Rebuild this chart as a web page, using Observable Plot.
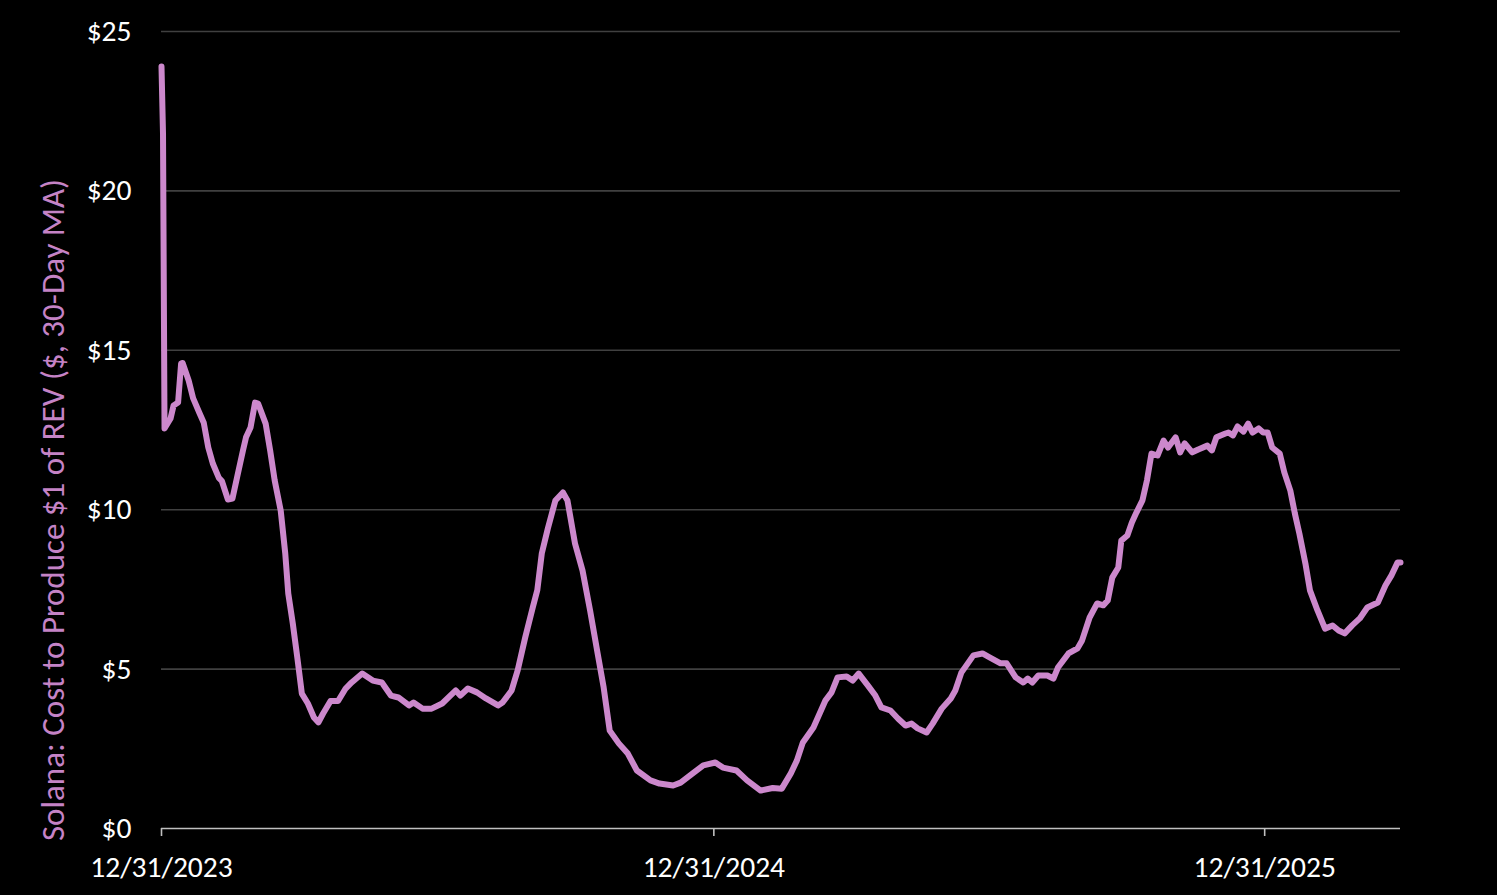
<!DOCTYPE html>
<html>
<head>
<meta charset="utf-8">
<script src="https://cdn.jsdelivr.net/npm/d3@7"></script>
<script src="https://cdn.jsdelivr.net/npm/@observablehq/plot@0.6"></script>
<style>
  html, body { margin: 0; padding: 0; background: #000; }
  #chart svg { display: block; }
</style>
</head>
<body>
<div id="chart"></div>
<script>
// ---- Data ----
const startDate = "2023-12-31";
// days since 12/31/2023
const dayOffsets = [
  0, 1, 2, 6, 8, 11, 13, 14, 18, 21, 25, 28, 31, 34, 38, 40, 44, 47, 50, 54,
  56, 59, 62, 64, 69, 72, 75, 79, 82, 84, 87, 90, 93, 97, 101, 104, 107, 112, 117, 122,
  126, 133, 140, 146, 152, 157, 164, 167, 173, 179, 186, 195, 198, 203, 209, 215, 223, 226, 232, 236,
  241, 246, 249, 252, 256, 261, 266, 269, 274, 279, 284, 289, 293, 297, 303, 309, 315, 324, 330, 339,
  344, 352, 359, 367, 372, 381, 388, 397, 405, 411, 417, 421, 425, 432, 440, 444, 448, 454, 458, 462,
  468, 473, 477, 483, 488, 493, 497, 501, 507, 511, 517, 523, 526, 530, 538, 544, 549, 556, 560, 566,
  571, 574, 577, 581, 587, 591, 594, 601, 607, 610, 615, 620, 624, 627, 630, 634, 636, 640, 643, 646,
  650, 653, 656, 660, 664, 667, 672, 675, 678, 683, 687, 693, 696, 699, 705, 707, 710, 713, 717, 720,
  723, 727, 730, 733, 736, 741, 744, 748, 751, 754, 758, 761, 766, 771, 776, 780, 784, 789, 794, 799,
  806, 811, 815, 819, 821
];
// Solana: cost to produce $1 of REV ($, 30-day MA)
const costPerRev = [
  23.9, 21.8, 12.55, 12.86, 13.27, 13.36, 14.59, 14.6, 14.05, 13.49, 13.05, 12.73, 11.95, 11.45, 11.0, 10.9, 10.32, 10.35, 11.0, 11.86,
  12.27, 12.58, 13.36, 13.33, 12.7, 11.86, 10.92, 9.97, 8.63, 7.37, 6.43, 5.36, 4.23, 3.92, 3.48, 3.33, 3.6, 4.0, 4.0, 4.39,
  4.58, 4.86, 4.64, 4.58, 4.17, 4.11, 3.86, 3.95, 3.76, 3.76, 3.92, 4.33, 4.17, 4.39, 4.27, 4.08, 3.86, 3.95, 4.33, 4.96,
  5.99, 6.93, 7.47, 8.63, 9.41, 10.29, 10.54, 10.29, 8.94, 8.09, 6.84, 5.49, 4.42, 3.07, 2.67, 2.35, 1.82, 1.51, 1.41, 1.35,
  1.44, 1.73, 1.98, 2.07, 1.91, 1.82, 1.51, 1.19, 1.27, 1.25, 1.73, 2.13, 2.7, 3.17, 4.02, 4.27, 4.74, 4.77, 4.64, 4.86,
  4.49, 4.17, 3.8, 3.7, 3.45, 3.23, 3.29, 3.14, 3.01, 3.29, 3.76, 4.08, 4.33, 4.89, 5.43, 5.49, 5.36, 5.18, 5.18, 4.74,
  4.58, 4.7, 4.58, 4.8, 4.8, 4.7, 5.05, 5.49, 5.65, 5.9, 6.62, 7.06, 7.0, 7.15, 7.87, 8.19, 9.03, 9.19, 9.6, 9.91,
  10.29, 10.92, 11.76, 11.7, 12.17, 11.95, 12.27, 11.8, 12.08, 11.8, 11.89, 12.01, 11.86, 12.27, 12.39, 12.42, 12.33, 12.61, 12.45, 12.7,
  12.42, 12.55, 12.42, 12.42, 11.95, 11.76, 11.17, 10.6, 9.88, 9.25, 8.31, 7.47, 6.84, 6.27, 6.37, 6.21, 6.12, 6.37, 6.59, 6.93,
  7.09, 7.62, 7.94, 8.34, 8.34
];
const xTickDates = ["2023-12-31", "2024-12-31", "2025-12-31"];
const yTicks = [0, 5, 10, 15, 20, 25];
const yLabel = "Solana: Cost to Produce $1 of REV ($, 30-Day MA)";

// ---- Build table ----
const start = d3.utcParse("%Y-%m-%d")(startDate);
const data = dayOffsets.map((d, i) => ({ date: d3.utcDay.offset(start, d), value: costPerRev[i] }));
const xTicks = xTickDates.map(d3.utcParse("%Y-%m-%d"));
const endDate = data[data.length - 1].date;

const chart = Plot.plot({
  width: 1497,
  height: 895,
  marginLeft: 161,
  marginRight: 97,
  marginTop: 31,
  marginBottom: 67,
  style: {
    background: "#000",
    color: "#fff",
    fontFamily: "Calibri, Carlito, 'Open Sans', sans-serif",
    fontSize: "29.5px"
  },
  x: { type: "utc", domain: [start, endDate] },
  y: { domain: [0, 25] },
  marks: [
    Plot.gridY(yTicks.filter(d => d > 0), { stroke: "#404040", strokeOpacity: 1, strokeWidth: 1.6 }),
    Plot.ruleY([0], { stroke: "#bfbfbf", strokeWidth: 1.6 }),
    Plot.axisY(yTicks, {
      tickSize: 0, tickPadding: 30, tickFormat: d => "$" + d,
      label: null, fill: "#fff", fontSize: 29.5
    }),
    Plot.axisX(xTicks, {
      tickSize: 8, tickPadding: 20, tickFormat: d3.utcFormat("%m/%d/%Y"),
      label: null, stroke: "#bfbfbf", strokeWidth: 1.6, fill: "#fff", fontSize: 29.5
    }),
    Plot.lineY(data, { x: "date", y: "value", stroke: "#cc88cc", strokeWidth: 6 }),
    Plot.text([yLabel], {
      text: d => d, frameAnchor: "left", dx: -108, dy: 80, rotate: -90,
      fill: "#c583c6", fontSize: 33, textAnchor: "middle"
    })
  ]
});
document.getElementById("chart").appendChild(chart);
</script>
</body>
</html>
